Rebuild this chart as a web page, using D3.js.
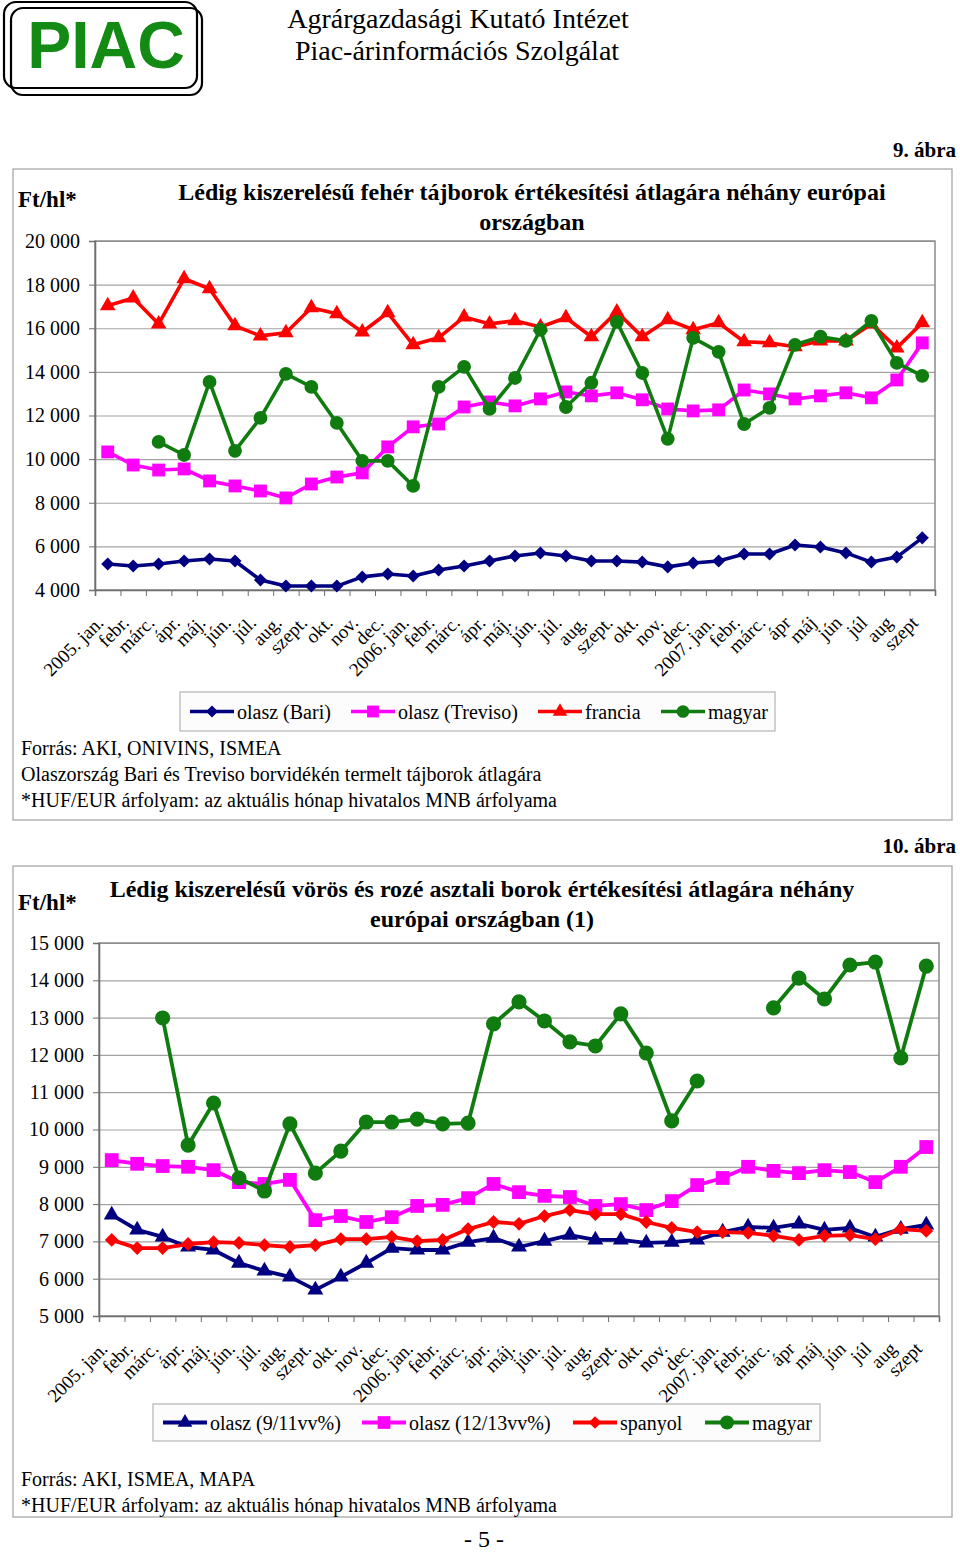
<!DOCTYPE html>
<html>
<head>
<meta charset="utf-8">
<script src="https://cdnjs.cloudflare.com/ajax/libs/d3/7.8.5/d3.min.js"></script>
<style>
body { margin: 0; background: #fff; }
svg text { font-family: "Liberation Serif", "Times New Roman", serif; }
</style>
</head>
<body>
<div id="page"></div>
<script>

//month labels (same on both charts)
var months = ["2005. jan.","febr.","márc.","ápr.","máj.","jún.","júl.","aug.","szept.","okt.","nov.","dec.",
			  "2006. jan.","febr.","márc.","ápr.","máj.","jún.","júl.","aug.","szept.","okt.","nov.","dec.",
			  "2007. jan.","febr.","márc.","ápr","máj","jún","júl","aug","szept"];

//9. ábra - fehér tájborok (Ft/hl)
var bari    = [5190,5100,5190,5330,5420,5330,4460,4180,4180,4180,4600,4730,4640,4920,5100,5330,5560,5700,5560,5330,5330,5280,5060,5240,5330,5650,5650,6060,5970,5700,5280,5510,6390];
var treviso = [10330,9730,9500,9550,9000,8770,8540,8220,8860,9180,9370,10560,11480,11610,12390,12620,12440,12760,13080,12900,13040,12720,12300,12210,12260,13170,12990,12760,12900,13040,12810,13630,15330];
var francia = [17030,17390,16200,18270,17810,16110,15650,15790,16940,16660,15830,16710,15240,15560,16520,16200,16340,16060,16480,15610,16750,15610,16390,15930,16250,15380,15330,15150,15420,15420,16200,15100,16250];
var magyar1 = [null,null,10790,10190,13540,10380,11890,13910,13310,11660,9920,9920,8770,13310,14230,12300,13720,15930,12390,13500,16290,13950,10930,15560,14920,11610,12350,15240,15610,15420,16340,14410,13820];
var ticks1  = [4000,6000,8000,10000,12000,14000,16000,18000,20000];

//10. ábra - vörös és rozé asztali borok (Ft/hl)
var olasz911  = [7710,7310,7120,6850,6770,6420,6210,6050,5700,6050,6420,6820,6770,6770,6980,7090,6850,7010,7170,7040,7040,6960,6980,7040,7250,7390,7360,7470,7310,7360,7120,7330,7440];
var olasz1213 = [9180,9080,9020,9000,8910,8590,8540,8650,7570,7680,7520,7650,7950,7980,8160,8540,8320,8220,8190,7950,8000,7840,8080,8510,8700,9000,8890,8830,8910,8860,8590,9000,9530];
var spanyol   = [7040,6820,6820,6930,6980,6960,6900,6850,6900,7060,7060,7120,7010,7040,7330,7520,7470,7680,7840,7730,7730,7520,7360,7250,7250,7230,7150,7040,7150,7170,7060,7330,7280];
var magyar2   = [null,null,12990,9580,10710,8700,8350,10150,8830,9420,10200,10200,10280,10150,10170,12830,13420,12910,12350,12240,13100,12050,10230,11300,null,null,13260,14060,13500,14410,14490,11920,14380];
var ticks2    = [5000,6000,7000,8000,9000,10000,11000,12000,13000,14000,15000];

var navy = "#000080", pink = "#ff00ff", red = "#ff0000", green = "#107c10";

//number format with space as thousands separator
var huFormat = d3.formatLocale({decimal: ",", thousands: " ", grouping: [3], currency: ["", ""]}).format(",");

var svg = d3.select("#page")
	.append("svg")
	.attr("width", 960)
	.attr("height", 1555);

////////// Header

svg.append("rect").attr("x", 4).attr("y", 2).attr("width", 193).attr("height", 86).attr("rx", 12)
	.attr("fill", "none").attr("stroke", "#000").attr("stroke-width", 2.2);
svg.append("rect").attr("x", 11).attr("y", 8).attr("width", 191).attr("height", 87).attr("rx", 12)
	.attr("fill", "none").attr("stroke", "#000").attr("stroke-width", 2.2);
svg.append("text").attr("x", 106).attr("y", 68).attr("text-anchor", "middle")
	.style("font-family", "'Liberation Sans', Arial, sans-serif").style("font-weight", "bold")
	.style("font-size", "66px").attr("fill", "#138a13").text("PIAC");

svg.append("text").attr("x", 458).attr("y", 28).attr("text-anchor", "middle")
	.style("font-size", "28px").text("Agrárgazdasági Kutató Intézet");
svg.append("text").attr("x", 457).attr("y", 60).attr("text-anchor", "middle")
	.style("font-size", "28px").text("Piac-árinformációs Szolgálat");

////////// Chart drawing

function marker(type, size) {
	if (type == "diamond") return d3.symbol().type(d3.symbolSquare).size(size)();
	if (type == "square") return d3.symbol().type(d3.symbolSquare).size(size)();
	if (type == "triangle") return d3.symbol().type(d3.symbolTriangle).size(size)();
	return d3.symbol().type(d3.symbolCircle).size(size)();
}

function drawChart(opts) {

	var x = d3.scaleBand()
		.domain(d3.range(months.length))
		.range([opts.left, opts.right]);

	var xEdge = d3.scaleLinear()
		.domain([0, months.length])
		.range([opts.left, opts.right]);

	var y = d3.scaleLinear()
		.domain([opts.ticks[0], opts.ticks[opts.ticks.length - 1]])
		.range([opts.bottom, opts.top]);

	function cx(i) { return x(i) + x.bandwidth() / 2; }

	//frame of the whole figure
	svg.append("rect")
		.attr("x", opts.frame[0]).attr("y", opts.frame[1])
		.attr("width", opts.frame[2] - opts.frame[0]).attr("height", opts.frame[3] - opts.frame[1])
		.attr("fill", "none").attr("stroke", "#a8a8a8").attr("stroke-width", 1.3);

	//gridlines
	svg.append("g")
		.attr("transform", "translate(" + opts.left + ",0)")
		.call(d3.axisLeft(y).tickValues(opts.ticks).tickSize(-(opts.right - opts.left)).tickFormat(""))
		.call(function(g) { g.select(".domain").remove(); })
		.selectAll("line").attr("stroke", "#a3a3a3").attr("stroke-width", 1.2);

	//plot border
	svg.append("rect")
		.attr("x", opts.left).attr("y", opts.top)
		.attr("width", opts.right - opts.left).attr("height", opts.bottom - opts.top)
		.attr("fill", "none").attr("stroke", "#8a8a8a").attr("stroke-width", 1.5);

	//y axis
	var yAxis = svg.append("g")
		.attr("transform", "translate(" + opts.left + ",0)")
		.call(d3.axisLeft(y).tickValues(opts.ticks).tickSize(6).tickPadding(9).tickFormat(huFormat));
	yAxis.select(".domain").attr("stroke", "#6e6e6e").attr("stroke-width", 1.6);
	yAxis.selectAll("line").attr("stroke", "#6e6e6e");
	yAxis.selectAll("text").style("font-size", "20px").style("font-family", "'Liberation Serif', serif").attr("fill", "#000");

	//x axis, ticks between months
	var xAxis = svg.append("g")
		.attr("transform", "translate(0," + opts.bottom + ")")
		.call(d3.axisBottom(xEdge).tickValues(d3.range(months.length + 1)).tickSize(6).tickFormat(""));
	xAxis.select(".domain").attr("stroke", "#6e6e6e").attr("stroke-width", 1.6);
	xAxis.selectAll("line").attr("stroke", "#6e6e6e");

	svg.append("g")
		.selectAll("text")
		.data(months)
		.enter()
		.append("text")
		.attr("transform", function(d, i) { return "translate(" + (cx(i) - 3) + "," + (opts.bottom + 34) + ") rotate(-45)"; })
		.attr("text-anchor", "end")
		.style("font-size", "19px")
		.text(function(d) { return d; });

	//series: line first, markers on top
	opts.series.forEach(function(s) {
		var line = d3.line()
			.defined(function(d) { return d != null; })
			.x(function(d, i) { return cx(i); })
			.y(function(d) { return y(d); });

		svg.append("path")
			.datum(s.values)
			.attr("d", line)
			.attr("fill", "none")
			.attr("stroke", s.color)
			.attr("stroke-width", opts.lineWidth)
			.attr("stroke-linejoin", "round");

		svg.append("g")
			.selectAll("path")
			.data(s.values.map(function(v, i) { return {v: v, i: i}; }).filter(function(d) { return d.v != null; }))
			.enter()
			.append("path")
			.attr("d", marker(s.marker, s.size))
			.attr("transform", function(d) {
				return "translate(" + cx(d.i) + "," + y(d.v) + ")" + (s.marker == "diamond" ? " rotate(45)" : "");
			})
			.attr("fill", s.color);
	});

	//legend
	var lg = opts.legend;
	svg.append("rect")
		.attr("x", lg.box[0]).attr("y", lg.box[1])
		.attr("width", lg.box[2] - lg.box[0]).attr("height", lg.box[3] - lg.box[1])
		.attr("fill", "#fcfcfc").attr("stroke", "#b4b4b4").attr("stroke-width", 1.2);

	var ly = (lg.box[1] + lg.box[3]) / 2;
	opts.series.forEach(function(s, k) {
		var lx = lg.pos[k];
		svg.append("line")
			.attr("x1", lx).attr("x2", lx + 44).attr("y1", ly).attr("y2", ly)
			.attr("stroke", s.color).attr("stroke-width", opts.lineWidth);
		svg.append("path")
			.attr("d", marker(s.marker, s.size * 0.85))
			.attr("transform", "translate(" + (lx + 22) + "," + ly + ")" + (s.marker == "diamond" ? " rotate(45)" : ""))
			.attr("fill", s.color);
		svg.append("text")
			.attr("x", lx + 47).attr("y", ly + 7)
			.style("font-size", "20px")
			.text(s.name);
	});

	//titles and notes
	svg.append("text").attr("x", 956).attr("y", opts.figY).attr("text-anchor", "end")
		.style("font-size", "21px").style("font-weight", "bold").text(opts.figLabel);
	svg.append("text").attr("x", 18).attr("y", opts.unitY)
		.style("font-size", "23px").style("font-weight", "bold").text("Ft/hl*");
	opts.title.forEach(function(t, k) {
		svg.append("text").attr("x", opts.titleX).attr("y", opts.titleY + k * 30).attr("text-anchor", "middle")
			.style("font-size", "24px").style("font-weight", "bold").text(t);
	});
	opts.notes.forEach(function(t, k) {
		svg.append("text").attr("x", 21).attr("y", opts.notesY + k * 26)
			.style("font-size", "20px").text(t);
	});
}

////////// 9. ábra

drawChart({
	left: 95, right: 935, top: 241, bottom: 590,
	frame: [13, 169, 952, 820],
	ticks: ticks1,
	lineWidth: 3.6,
	series: [
		{name: "olasz (Bari)", values: bari, color: navy, marker: "diamond", size: 85},
		{name: "olasz (Treviso)", values: treviso, color: pink, marker: "square", size: 165},
		{name: "francia", values: francia, color: red, marker: "triangle", size: 105},
		{name: "magyar", values: magyar1, color: green, marker: "circle", size: 150}
	],
	legend: {box: [180, 692, 775, 731], pos: [190, 351, 538, 661]},
	figLabel: "9. ábra", figY: 157,
	unitY: 207,
	title: ["Lédig kiszerelésű fehér tájborok értékesítési átlagára néhány európai", "országban"],
	titleX: 532, titleY: 200,
	notes: ["Forrás: AKI, ONIVINS, ISMEA",
			"Olaszország Bari és Treviso borvidékén termelt tájborok átlagára",
			"*HUF/EUR árfolyam: az aktuális hónap hivatalos MNB árfolyama"],
	notesY: 755
});

////////// 10. ábra

drawChart({
	left: 99, right: 939, top: 943, bottom: 1316,
	frame: [13, 866, 952, 1517],
	ticks: ticks2,
	lineWidth: 3.8,
	series: [
		{name: "olasz (9/11vv%)", values: olasz911, color: navy, marker: "triangle", size: 110},
		{name: "olasz (12/13vv%)", values: olasz1213, color: pink, marker: "square", size: 190},
		{name: "spanyol", values: spanyol, color: red, marker: "diamond", size: 95},
		{name: "magyar", values: magyar2, color: green, marker: "circle", size: 180}
	],
	legend: {box: [153, 1404, 820, 1441], pos: [163, 362, 573, 705]},
	figLabel: "10. ábra", figY: 853,
	unitY: 910,
	title: ["Lédig kiszerelésű vörös és rozé asztali borok értékesítési átlagára néhány", "európai országban (1)"],
	titleX: 482, titleY: 897,
	notes: ["Forrás: AKI, ISMEA, MAPA",
			"*HUF/EUR árfolyam: az aktuális hónap hivatalos MNB árfolyama"],
	notesY: 1486
});

//page number
svg.append("text").attr("x", 484).attr("y", 1547).attr("text-anchor", "middle")
	.style("font-size", "24px").text("- 5 -");

</script>
</body>
</html>
